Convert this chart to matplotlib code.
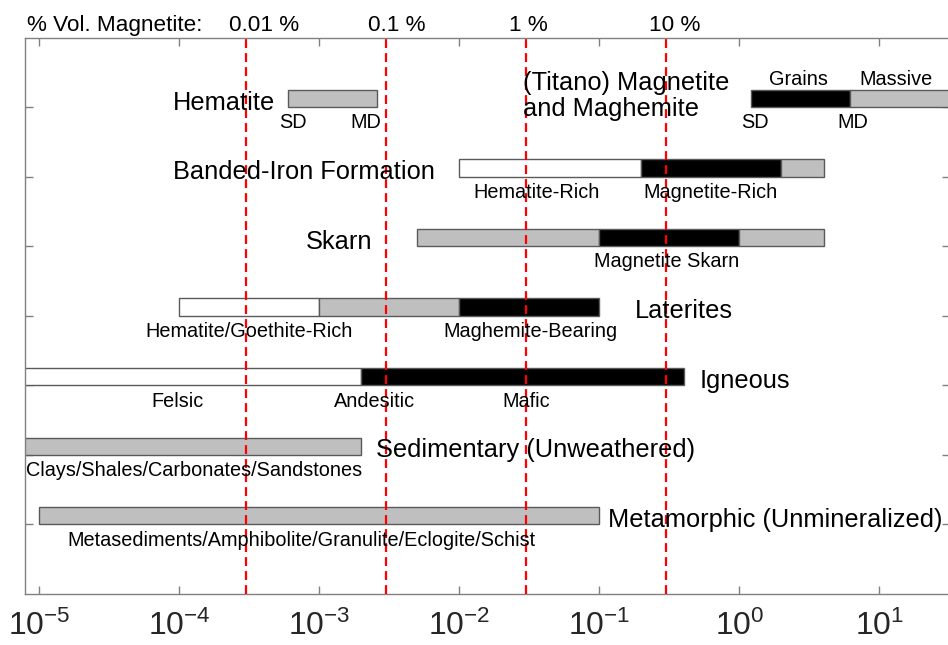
import matplotlib
matplotlib.use("Agg")
import matplotlib.pyplot as plt
import numpy as np

plt.rcParams['font.family'] = ['Liberation Sans', 'DejaVu Sans']
plt.rcParams['mathtext.fontset'] = 'custom'
plt.rcParams['mathtext.rm'] = 'Liberation Sans'
plt.rcParams['mathtext.it'] = 'Liberation Sans:italic'
plt.rcParams['axes.unicode_minus'] = False

# --- data -----------------------------------------------------------------
rows = ['Metamorphic (Unmineralized)', 'Sedimentary (Unweathered)', 'Igneous',
        'Laterites', 'Skarn', 'Banded-Iron Formation', 'Hematite']
row_y = [1, 2, 3, 4, 5, 6, 7]

# segment edges and fill for each bar (x = value on log axis)
metamorphic_edges = [1e-5, 0.1]
metamorphic_fill = ['gray']
sedimentary_edges = [1e-6, 2e-3]
sedimentary_fill = ['gray']
igneous_edges = [1e-6, 2e-3, 0.4]
igneous_fill = ['white', 'black']
laterite_edges = [1e-4, 1e-3, 1e-2, 0.1]
laterite_fill = ['white', 'gray', 'black']
skarn_edges = [5e-3, 0.1, 1.0, 4.0]
skarn_fill = ['gray', 'black', 'gray']
bif_edges = [0.01, 0.2, 2.0, 4.0]
bif_fill = ['white', 'black', 'gray']
hematite_edges = [6e-4, 2.6e-3]
hematite_fill = ['gray']
titano_edges = [1.22, 6.2, 100]
titano_fill = ['black', 'gray']

pct_lines = [3e-4, 3e-3, 3e-2, 3e-1]
pct_labels = ['0.01 %', '0.1 %', '1 %', '10 %']

# --- label placement (log10 x of anchors) ------------------------------------
row_label_x = [-0.94, -2.597, -0.286, -0.745, -3.097, -4.043, -4.043]
titano_label = '(Titano) Magnetite\nand Maghemite'
titano_label_x = -1.543

# (text, log10 x center, row, above?)
sub_labels = [
    ('SD', -3.188, 7, False), ('MD', -2.667, 7, False),
    ('Grains', 0.419, 7, True), ('Massive', 1.119, 7, True),
    ('SD', 0.110, 7, False), ('MD', 0.812, 7, False),
    ('Hematite-Rich', -1.445, 6, False), ('Magnetite-Rich', -0.209, 6, False),
    ('Magnetite Skarn', -0.52, 5, False),
    ('Hematite/Goethite-Rich', -3.504, 4, False), ('Maghemite-Bearing', -1.495, 4, False),
    ('Felsic', -4.016, 3, False), ('Andesitic', -2.609, 3, False), ('Mafic', -1.524, 3, False),
    ('Clays/Shales/Carbonates/Sandstones', -3.897, 2, False),
    ('Metasediments/Amphibolite/Granulite/Eclogite/Schist', -3.124, 1, False),
]

fills = {'gray': '#bfbfbf', 'black': '#000000', 'white': '#ffffff'}
bar_h = 0.25

W, H = 948, 645
fig = plt.figure(figsize=(W / 100, H / 100), dpi=100)
ax = fig.add_axes([25 / W, (H - 594) / H, (950 - 25) / W, (594 - 37.7) / H])
ax.set_xscale('log')


def draw_bar(y, edges, fill):
    for i, f in enumerate(fill):
        ax.barh(y, edges[i + 1] - edges[i], left=edges[i], height=bar_h, align='edge',
                color=fills[f], edgecolor='#5a5a5a', linewidth=1.0, zorder=2)


draw_bar(1, metamorphic_edges, metamorphic_fill)
draw_bar(2, sedimentary_edges, sedimentary_fill)
draw_bar(3, igneous_edges, igneous_fill)
draw_bar(4, laterite_edges, laterite_fill)
draw_bar(5, skarn_edges, skarn_fill)
draw_bar(6, bif_edges, bif_fill)
draw_bar(7, hematite_edges, hematite_fill)
draw_bar(7, titano_edges, titano_fill)

# percent lines
for xv in pct_lines:
    ax.axvline(xv, color='#ff0000', lw=1.6, dashes=(4, 2.3), zorder=3)

# big row labels
for name, y, lx in zip(rows, row_y, row_label_x):
    ax.text(10 ** lx, y + bar_h / 2 - 0.06, name, fontsize=18.3, ha='left', va='center', zorder=4)
ax.text(10 ** titano_label_x, 7.16, titano_label, fontsize=18.3,
        ha='left', va='center', linespacing=1.08, zorder=4)

# small labels
for txt, lx, y, above in sub_labels:
    yy = y + bar_h + 0.15 if above else y - 0.225
    ax.text(10 ** lx, yy, txt, fontsize=14.3, ha='center', va='center', zorder=4)

# top percentage labels
fig.text(26.7 / W, 1 - 25 / H, '% Vol. Magnetite:', fontsize=16.2, ha='left', va='center')
offs = [13, 8, 2, 6.5]
for xv, lab, o in zip(pct_lines, pct_labels, offs):
    ax.annotate(lab, xy=(xv, 1), xycoords=('data', 'axes fraction'),
                xytext=(o, 8.5), textcoords='offset points',
                fontsize=16.2, ha='center', va='center', annotation_clip=False)

ax.set_xlim(10 ** -5.102, 10 ** 1.505)
ax.set_ylim(0, 8)
ax.set_xticks([1e-5, 1e-4, 1e-3, 1e-2, 1e-1, 1e0, 1e1])
ax.xaxis.set_minor_locator(matplotlib.ticker.NullLocator())
ax.set_yticks(row_y)
ax.set_yticklabels([])
ax.tick_params(axis='both', direction='in', length=6, width=1, color='#808080',
               top=True, right=True, labelsize=23, labelcolor='#262626', pad=12)
for s in ax.spines.values():
    s.set_color('#808080')
    s.set_linewidth(1.0)

fig.savefig('out.png', dpi=100)
